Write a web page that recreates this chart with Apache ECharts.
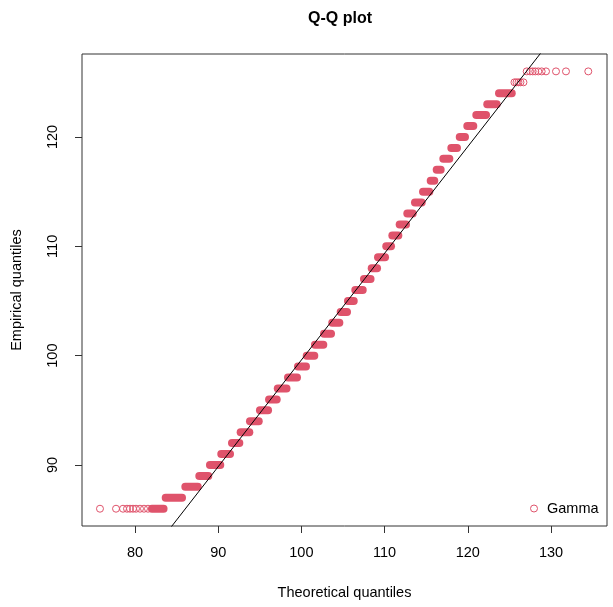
<!DOCTYPE html>
<html>
<head>
<meta charset="utf-8">
<script src="https://cdn.jsdelivr.net/npm/echarts@6/dist/echarts.min.js"></script>
<style>
  html, body { margin: 0; padding: 0; background: #fff; }
  #chart { width: 613px; height: 607px; }
</style>
</head>
<body>
<div id="chart"></div>
<script>
// Q-Q plot (Gamma fit) — empirical quantiles are integers, so points pile up into bands

const xTicks = [80, 90, 100, 110, 120, 130];
const yTicks = [90, 100, 110, 120];

// dense runs of points: one row per empirical level, first and last theoretical quantile
const bandLevels = [86, 87, 88, 89, 90, 91, 92, 93, 94, 95, 96, 97, 98, 99, 100, 101, 102, 103, 104, 105,
  106, 107, 108, 109, 110, 111, 112, 113, 114, 115, 116, 117, 118, 119, 120, 121, 122, 123, 124];
const bandStart = [82.04, 83.69, 86.05, 87.73, 89.01, 90.37, 91.66, 92.70, 93.82, 95.02, 96.11, 97.16, 98.39,
  99.59, 100.64, 101.63, 102.72, 103.71, 104.72, 105.60, 106.48, 107.52, 108.45, 109.21, 110.20, 110.93,
  111.81, 112.73, 113.65, 114.62, 115.54, 116.26, 117.06, 118.02, 119.03, 119.94, 121.02, 122.34, 123.75];
const bandEnd = [83.43, 85.65, 87.54, 88.81, 90.25, 91.42, 92.54, 93.74, 94.87, 95.99, 97.03, 98.21, 99.47,
  100.55, 101.55, 102.63, 103.56, 104.56, 105.48, 106.29, 107.37, 108.31, 109.09, 110.05, 110.77, 111.65,
  112.57, 113.38, 114.46, 115.37, 115.97, 116.74, 117.78, 118.70, 119.66, 120.66, 122.19, 123.47, 125.28];

// sparse points in the tails
const tailX = [75.79, 77.72, 78.56, 79.04, 79.40, 79.76, 80.12, 80.60, 81.08, 81.56,
  125.61, 125.85, 126.09, 126.33, 126.69,
  127.08, 127.48, 127.80, 128.11, 128.47, 128.88, 129.40, 130.60, 131.80, 134.48];
const tailY = [86, 86, 86, 86, 86, 86, 86, 86, 86, 86,
  125, 125, 125, 125, 125,
  126, 126, 126, 126, 126, 126, 126, 126, 126, 126];

// reference line
const refX = [73, 137];
const refY = [73.26, 135.71];

const RED = '#DF536B';
const FONT = '"Liberation Sans", Arial, sans-serif';

const chart = echarts.init(document.getElementById('chart'), null, { renderer: 'canvas' });

const bandSeries = bandLevels.map((lv, i) => ({
  type: 'line',
  name: 'Gamma',
  data: [[bandStart[i], lv], [bandEnd[i], lv]],
  symbol: 'none',
  lineStyle: { color: RED, width: 8, cap: 'round' },
  silent: true,
  z: 2,
}));

const option = {
  animation: false,
  title: {
    text: 'Q-Q plot',
    left: 335,
    textAlign: 'center',
    top: 6,
    textStyle: { fontFamily: FONT, fontSize: 16, fontWeight: 'bold', color: '#000' },
  },
  legend: {
    left: 525,
    top: 496,
    selectedMode: false,
    itemWidth: 16,
    itemHeight: 7,
    textStyle: { fontFamily: FONT, fontSize: 14.5, color: '#000' },
    data: [{
      name: 'Gamma',
      icon: 'circle',
      itemStyle: { color: 'rgba(0,0,0,0)', borderColor: RED, borderWidth: 1 },
    }],
  },
  grid: {
    left: 82,
    right: 6,
    top: 54,
    bottom: 81,
    show: true,
    borderColor: '#333',
    borderWidth: 1,
    backgroundColor: 'transparent',
  },
  xAxis: {
    type: 'value',
    min: 73.63,
    max: 136.73,
    name: 'Theoretical quantiles',
    nameLocation: 'middle',
    nameGap: 59,
    nameTextStyle: { fontFamily: FONT, fontSize: 14.5, color: '#000' },
    axisLine: { show: false },
    axisTick: { show: true, length: 7, customValues: xTicks, lineStyle: { color: '#333' } },
    axisLabel: { customValues: xTicks, margin: 19, fontFamily: FONT, fontSize: 14.5, color: '#000' },
    splitLine: { show: false },
  },
  yAxis: {
    type: 'value',
    min: 84.42,
    max: 127.59,
    name: 'Empirical quantiles',
    nameLocation: 'middle',
    nameGap: 58,
    nameTextStyle: { fontFamily: FONT, fontSize: 14.5, color: '#000' },
    axisLine: { show: false },
    axisTick: { show: true, length: 7, customValues: yTicks, lineStyle: { color: '#333' } },
    axisLabel: { customValues: yTicks, rotate: 90, margin: 22, fontFamily: FONT, fontSize: 14.5, color: '#000' },
    splitLine: { show: false },
  },
  series: [
    ...bandSeries,
    {
      type: 'scatter',
      name: 'Gamma',
      data: tailX.map((x, i) => [x, tailY[i]]),
      symbol: 'circle',
      symbolSize: 7,
      itemStyle: { color: 'rgba(0,0,0,0)', borderColor: RED, borderWidth: 1, opacity: 1 },
      silent: true,
      z: 3,
    },
    {
      type: 'line',
      name: 'ref',
      data: refX.map((x, i) => [x, refY[i]]),
      symbol: 'none',
      lineStyle: { color: '#000', width: 1 },
      clip: true,
      silent: true,
      z: 4,
    },
  ],
};

chart.setOption(option);
</script>
</body>
</html>
